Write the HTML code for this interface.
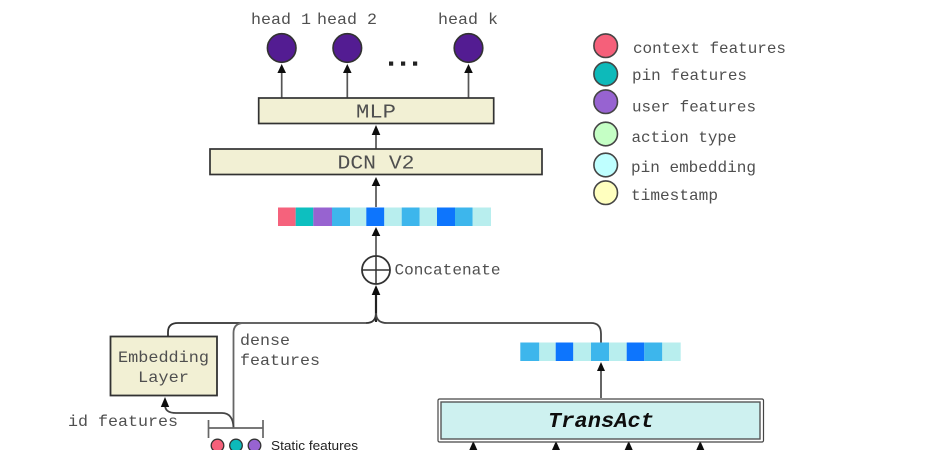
<!DOCTYPE html>
<html><head><meta charset="utf-8">
<style>
html,body{margin:0;padding:0;background:#fff;width:950px;height:450px;overflow:hidden}
svg{display:block}
text{font-family:"Liberation Mono",monospace;fill:#505050;font-size:15.8px}
</style></head>
<body>
<svg width="950" height="450" viewBox="0 0 950 450" xmlns="http://www.w3.org/2000/svg">
<defs>
<filter id="b" x="-5%" y="-5%" width="110%" height="110%"><feGaussianBlur stdDeviation="0.35"/></filter>
</defs>
<g filter="url(#b)">
<!-- head labels -->
<text x="251" y="24" textLength="60" lengthAdjust="spacingAndGlyphs">head 1</text>
<text x="317" y="24" textLength="60" lengthAdjust="spacingAndGlyphs">head 2</text>
<text x="438" y="24" textLength="60" lengthAdjust="spacingAndGlyphs">head k</text>
<circle cx="281.7" cy="48" r="14.3" fill="#521B92" stroke="#333" stroke-width="1.6"/>
<circle cx="347.3" cy="48" r="14.3" fill="#521B92" stroke="#333" stroke-width="1.6"/>
<circle cx="468.5" cy="48" r="14.3" fill="#521B92" stroke="#333" stroke-width="1.6"/>
<g fill="#222"><rect x="389" y="61.5" width="4.2" height="4.2"/><rect x="401" y="61.5" width="4.2" height="4.2"/><rect x="413" y="61.5" width="4.2" height="4.2"/></g>

<!-- connectors -->
<g stroke="#444" stroke-width="1.7" fill="none">
<path d="M281.7 98V70M347.3 98V70M468.5 98V70" stroke="#555"/>
<path d="M376 149V132M376 207V184M376 256V234" stroke="#555"/>
<path d="M376 322V292" stroke-width="2.2" stroke="#222"/>
<path d="M168 336V332Q168 323 178 323H366Q376 323 376 313" stroke="#333" stroke-width="1.8"/>
<path d="M233.5 428V333Q233.5 323 244 323H366" stroke="#666" stroke-width="1.8"/>
<path d="M376 313Q376 323 387 323H591Q601 323 601 334V343" stroke="#444" stroke-width="1.8"/>
<path d="M601 398V370" stroke="#333" stroke-width="1.5"/>
<path d="M233.5 428Q233 413 222 413H176Q165 413 165 405" stroke="#444" stroke-width="1.7"/>
<path d="M208.5 428H263M208.5 420V438M263 420V438" stroke="#666"/>
</g>
<!-- arrowheads -->
<g fill="#111">
<path d="M281.7 64l-4.3 9h8.6z"/>
<path d="M347.3 64l-4.3 9h8.6z"/>
<path d="M468.5 64l-4.3 9h8.6z"/>
<path d="M376 125l-4.3 10h8.6z"/>
<path d="M376 177l-4.3 9h8.6z"/>
<path d="M376 227l-4.3 9h8.6z"/>
<path d="M376 285l-4.3 10h8.6z"/>
<path d="M601 362l-4 9h8z"/>
<path d="M165 397l-4.2 10h8.4z"/>
<path d="M473.3 441l-4 9h8z"/>
<path d="M556 441l-4 9h8z"/>
<path d="M628.7 441l-4 9h8z"/>
<path d="M700.3 441l-4 9h8z"/>
</g>

<!-- MLP / DCN -->
<rect x="258.7" y="98" width="235" height="25.5" fill="#F2F0D4" stroke="#333" stroke-width="1.7"/>
<text x="356" y="117.5" textLength="40" lengthAdjust="spacingAndGlyphs" style="font-size:19px">MLP</text>
<rect x="210" y="149" width="332" height="25.5" fill="#F2F0D4" stroke="#333" stroke-width="1.7"/>
<text x="337.5" y="168.5" textLength="77" lengthAdjust="spacingAndGlyphs" style="font-size:19px">DCN V2</text>

<!-- top bar -->
<rect x="278" y="207.5" width="17.7" height="18.5" fill="#F5627C"/>
<rect x="295.7" y="207.5" width="17.6" height="18.5" fill="#07BFBF"/>
<rect x="313.3" y="207.5" width="18.7" height="18.5" fill="#9764D0"/>
<rect x="332" y="207.5" width="18" height="18.5" fill="#3EB6EC"/>
<rect x="350" y="207.5" width="16.3" height="18.5" fill="#B8EEEE"/>
<rect x="366.3" y="207.5" width="18" height="18.5" fill="#0874FD"/>
<rect x="384.3" y="207.5" width="17.4" height="18.5" fill="#B8EEEE"/>
<rect x="401.7" y="207.5" width="18" height="18.5" fill="#3EB6EC"/>
<rect x="419.7" y="207.5" width="17.3" height="18.5" fill="#B8EEEE"/>
<rect x="437" y="207.5" width="18" height="18.5" fill="#0874FD"/>
<rect x="455" y="207.5" width="17.7" height="18.5" fill="#3EB6EC"/>
<rect x="472.7" y="207.5" width="18.3" height="18.5" fill="#B8EEEE"/>

<!-- concat -->
<circle cx="376" cy="270" r="14" fill="#fff" stroke="#333" stroke-width="1.8"/>
<path d="M362 270H390M376 256V284" stroke="#333" stroke-width="1.5"/>
<text x="394.5" y="274.5" textLength="106" lengthAdjust="spacingAndGlyphs">Concatenate</text>

<!-- Embedding -->
<rect x="110.5" y="336.5" width="106.5" height="59" fill="#F2F0D4" stroke="#333" stroke-width="1.8"/>
<text x="118" y="362" textLength="91" lengthAdjust="spacingAndGlyphs">Embedding</text>
<text x="138" y="382" textLength="51" lengthAdjust="spacingAndGlyphs">Layer</text>
<text x="240" y="345" textLength="50" lengthAdjust="spacingAndGlyphs">dense</text>
<text x="240" y="365" textLength="80" lengthAdjust="spacingAndGlyphs">features</text>
<text x="68" y="426" textLength="110" lengthAdjust="spacingAndGlyphs">id features</text>

<!-- static dots -->
<circle cx="217.5" cy="445.5" r="6.3" fill="#F5607A" stroke="#333" stroke-width="1.3"/>
<circle cx="236" cy="445.5" r="6.3" fill="#07BABA" stroke="#333" stroke-width="1.3"/>
<circle cx="254.5" cy="445.5" r="6.3" fill="#9763D1" stroke="#333" stroke-width="1.3"/>
<text x="271" y="450" textLength="87" lengthAdjust="spacingAndGlyphs" style="font-family:'Liberation Sans',sans-serif;font-size:12.5px;fill:#222">Static features</text>

<!-- second bar -->
<rect x="520.3" y="342.5" width="19" height="18.5" fill="#3EB6EC"/>
<rect x="539.3" y="342.5" width="16.4" height="18.5" fill="#B8EEEE"/>
<rect x="555.7" y="342.5" width="17.6" height="18.5" fill="#0874FD"/>
<rect x="573.3" y="342.5" width="17.7" height="18.5" fill="#B8EEEE"/>
<rect x="591" y="342.5" width="18" height="18.5" fill="#3EB6EC"/>
<rect x="609" y="342.5" width="17.7" height="18.5" fill="#B8EEEE"/>
<rect x="626.7" y="342.5" width="17.6" height="18.5" fill="#0874FD"/>
<rect x="644.3" y="342.5" width="18" height="18.5" fill="#3EB6EC"/>
<rect x="662.3" y="342.5" width="18.4" height="18.5" fill="#B8EEEE"/>

<!-- TransAct -->
<rect x="438" y="399" width="325.5" height="43" rx="1.5" fill="#fff" stroke="#444" stroke-width="1.2"/>
<rect x="441" y="402" width="319" height="37" fill="#CEF1F0" stroke="#555" stroke-width="1.4"/>
<text x="548" y="427" textLength="106" lengthAdjust="spacingAndGlyphs" style="font-size:21px;font-weight:bold;font-style:italic;fill:#111">TransAct</text>

<!-- legend -->
<g stroke="#444" stroke-width="1.6">
<circle cx="605.7" cy="45.7" r="11.8" fill="#F5607A"/>
<circle cx="605.7" cy="74" r="11.8" fill="#07BABA"/>
<circle cx="605.7" cy="101.7" r="11.8" fill="#9763D1"/>
<circle cx="605.7" cy="134" r="11.8" fill="#C5FFC5"/>
<circle cx="605.7" cy="165" r="11.8" fill="#BFFFFF"/>
<circle cx="605.7" cy="192.7" r="11.8" fill="#FFFFBF"/>
</g>
<text x="633" y="53" textLength="153" lengthAdjust="spacingAndGlyphs">context features</text>
<text x="632" y="80" textLength="115" lengthAdjust="spacingAndGlyphs">pin features</text>
<text x="632" y="111.5" textLength="124" lengthAdjust="spacingAndGlyphs">user features</text>
<text x="631.5" y="142" textLength="105" lengthAdjust="spacingAndGlyphs">action type</text>
<text x="631" y="172" textLength="125" lengthAdjust="spacingAndGlyphs">pin embedding</text>
<text x="631" y="200" textLength="87" lengthAdjust="spacingAndGlyphs">timestamp</text>
</g>
</svg>
</body></html>
